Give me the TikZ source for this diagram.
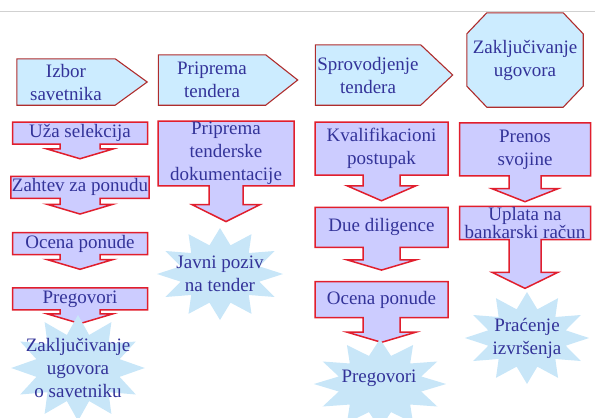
\documentclass[tikz,border=0pt]{standalone}
\usepackage{fontspec}
\setmainfont{Liberation Serif}
\usetikzlibrary{shapes, arrows, positioning, backgrounds}

\definecolor{sigfill}{RGB}{204,236,255}
\definecolor{sigline}{RGB}{175,45,45}
\definecolor{boxfill}{RGB}{204,204,255}
\definecolor{boxline}{RGB}{225,30,45}
\definecolor{burstfill}{RGB}{200,230,248}
\definecolor{txtblue}{RGB}{51,51,153}

% pentagon arrow and octagon behind a named node
\newcommand{\phaseshape}[1]{%
	\begin{scope}[on background layer]
		\draw[outline] (#1.north west) -- (#1.north east) -- ([xshift=32pt]#1.east) -- (#1.south east) -- (#1.south west) -- cycle;
	\end{scope}}
\newcommand{\octshape}[1]{%
	\begin{scope}[on background layer]
		\draw[outline] ([xshift=20pt]#1.north west) -- ([xshift=-20pt]#1.north east) -- ([yshift=-21pt]#1.north east) -- ([yshift=21pt]#1.south east) -- ([xshift=-20pt]#1.south east) -- ([xshift=20pt]#1.south west) -- ([yshift=21pt]#1.south west) -- ([yshift=-21pt]#1.north west) -- cycle;
	\end{scope}}

\begin{document}
\begin{tikzpicture}[
		x=1pt, y=-1pt,
		every node/.style={text=txtblue, font=\fontsize{19}{23}\selectfont, align=center},
		outline/.style={draw=sigline, line width=1.1pt, fill=sigfill},
		phase/.style={inner sep=0pt},
		task/.style={arrow box, draw=boxline, line width=1.5pt, fill=boxfill, inner sep=1pt},
		pointdown/.style n args={4}{arrow box arrows={south:#1 from border}, arrow box shaft width=#2, arrow box head extend=#3, arrow box tip angle=#4},
		burst/.style={star, star points=12, star point ratio=1.55, fill=burstfill, inner sep=0pt}
		]
		\useasboundingbox (0,0) rectangle (595,418);
		\draw[black!18, line width=0.8pt] (0,11) -- (595,11);
		
		% Izbor savetnika
		\node[phase, minimum width=98pt, minimum height=46pt] (izbor) at (66,82) {Izbor\\savetnika};
		\phaseshape{izbor}
		\node[task, pointdown={14pt}{40pt}{13pt}{147}, minimum width=135pt, minimum height=22pt] (uza) at (80,133) {Uža selekcija};
		\node[task, pointdown={15pt}{40pt}{13pt}{147}, minimum width=135pt, minimum height=22pt, below=16pt of uza] (zahtev) {Zahtev za ponudu};
		\node[task, pointdown={14pt}{40pt}{13pt}{147}, minimum width=135pt, minimum height=22pt, below=17pt of zahtev] (ocenasav) {Ocena ponude};
		\node[task, pointdown={13pt}{40pt}{13pt}{147}, minimum width=135pt, minimum height=22pt, below=17pt of ocenasav] (pregsav) {Pregovori};
		\node[burst, minimum size=106pt, xscale=1.26] (zaksav) at (78,368) {};
		\node (zaksavtxt) at (zaksav) {Zaključivanje\\ugovora\\o savetniku};
		
		% Priprema tendera
		\node[phase, minimum width=107pt, minimum height=50pt] (tendera) at (212,80) {Priprema\\tendera};
		\phaseshape{tendera}
		\node[task, pointdown={35pt}{34pt}{17pt}{127}, minimum width=136pt, minimum height=63pt] (dokum) at (226,153.5) {Priprema\\tenderske\\dokumentacije};
		\node[burst, minimum size=92pt, xscale=1.37] (javni) at (220,274) {};
		\node (javnitxt) at (javni) {Javni poziv\\na tender};
		
		% Sprovodjenje tendera
		\node[phase, minimum width=105pt, minimum height=60pt] (sprov) at (368,75) {Sprovodjenje\\tendera};
		\phaseshape{sprov}
		\node[task, pointdown={25pt}{37pt}{16pt}{133}, minimum width=133pt, minimum height=53pt] (kvalif) at (381.5,148.5) {Kvalifikacioni\\postupak};
		\node[task, pointdown={22pt}{37pt}{16pt}{147}, minimum width=133pt, minimum height=40pt, below=5pt of kvalif] (due) {Due diligence};
		\node[task, pointdown={24pt}{37pt}{16pt}{147}, minimum width=133pt, minimum height=36pt, below=10pt of due] (ocenaten) {Ocena ponude};
		\node[burst, minimum size=90pt, xscale=1.47] (pregten) at (380,384) {};
		\node (pregtentxt) at (379,378) {Pregovori};
		
		% Zakljucivanje ugovora
		\node[phase, minimum width=116pt, minimum height=94pt] (zaklj) at (525,60) {Zaključivanje\\ugovora};
		\octshape{zaklj}
		\node[task, pointdown={25pt}{32pt}{17pt}{137}, minimum width=131pt, minimum height=53pt, below=15pt of zaklj] (prenos) {Prenos\\svojine};
		\node[task, pointdown={48pt}{32pt}{17pt}{128}, minimum width=131pt, minimum height=32pt, below=3pt of prenos] (uplata) {Uplata na\\[-5pt]bankarski račun};
		\node[burst, minimum size=92pt, xscale=1.35] (pracenje) at (527,338) {};
		\node (pracenjetxt) at (pracenje) {Praćenje\\izvršenja};
	\end{tikzpicture}
\end{document}
